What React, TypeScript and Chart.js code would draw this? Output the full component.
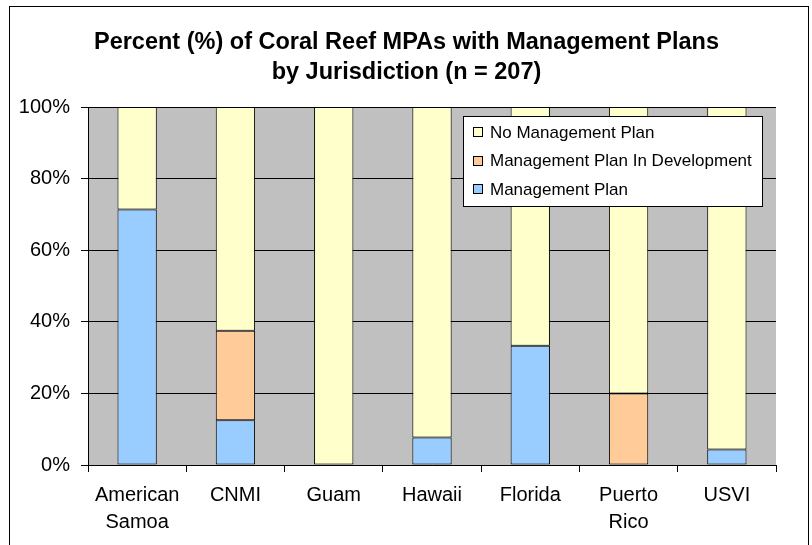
import React, { useEffect, useRef } from "react";
import { Chart, registerables } from "chart.js";

Chart.register(...registerables);

const categories: (string | string[])[] = [
  ["American", "Samoa"],
  "CNMI",
  "Guam",
  "Hawaii",
  "Florida",
  ["Puerto", "Rico"],
  "USVI",
];
const managementPlan = [71.4, 12.5, 0, 7.7, 33.3, 0, 4.3];
const planInDevelopment = [0, 25, 0, 0, 0, 20, 0];
const noManagementPlan = [28.6, 62.5, 100, 92.3, 66.7, 80, 95.7];
const yTicks = [0, 20, 40, 60, 80, 100];
const titleLines = [
  "Percent (%) of Coral Reef MPAs with Management Plans",
  "by Jurisdiction (n = 207)",
];

const FONT = "'Liberation Sans', Arial, sans-serif";

const framePlugin = {
  id: "frame",
  beforeDraw(chart: any) {
    const { ctx, chartArea } = chart;
    ctx.save();
    ctx.fillStyle = "#ffffff";
    ctx.fillRect(0, 0, chart.width, chart.height);
    ctx.strokeStyle = "#000000";
    ctx.lineWidth = 1;
    ctx.strokeRect(9.5, 6.5, 799, 600);
    ctx.fillStyle = "#C0C0C0";
    ctx.fillRect(chartArea.left, chartArea.top, chartArea.right - chartArea.left, chartArea.bottom - chartArea.top);
    // title
    ctx.fillStyle = "#000000";
    ctx.font = `bold 23.5px ${FONT}`;
    ctx.textAlign = "center";
    ctx.textBaseline = "alphabetic";
    ctx.fillText(titleLines[0], 406.5, 48.5);
    ctx.fillText(titleLines[1], 406.5, 79);
    ctx.restore();
  },
  afterDraw(chart: any) {
    const { ctx } = chart;
    ctx.save();
    ctx.fillStyle = "#ffffff";
    ctx.fillRect(463.5, 116.5, 299, 90);
    ctx.strokeStyle = "#000000";
    ctx.lineWidth = 1;
    ctx.strokeRect(463.5, 116.5, 299, 90);
    const ds = [...chart.data.datasets].reverse();
    const rows = [132, 160.5, 189];
    ctx.font = `17px ${FONT}`;
    ctx.textBaseline = "middle";
    ctx.textAlign = "left";
    ds.forEach((d: any, i: number) => {
      const y = rows[i];
      ctx.fillStyle = d.backgroundColor;
      ctx.fillRect(473.5, Math.round(y - 5) + 0.5, 9, 9);
      ctx.strokeStyle = "#000000";
      ctx.strokeRect(473.5, Math.round(y - 5) + 0.5, 9, 9);
      ctx.fillStyle = "#000000";
      ctx.fillText(d.label, 490, y + 1);
    });
    ctx.restore();
  },
};

export default function App() {
  const ref = useRef<HTMLCanvasElement | null>(null);
  useEffect(() => {
    if (!ref.current) return;
    const common = {
      borderColor: "#000000",
      borderWidth: 1,
      borderSkipped: false,
      barPercentage: 0.4,
      categoryPercentage: 1.0,
    };
    const chart = new Chart(ref.current, {
      type: "bar",
      data: {
        labels: categories,
        datasets: [
          { label: "Management Plan", data: managementPlan, backgroundColor: "#99CCFF", ...common },
          { label: "Management Plan In Development", data: planInDevelopment, backgroundColor: "#FFCC99", ...common },
          { label: "No Management Plan", data: noManagementPlan, backgroundColor: "#FFFFCC", ...common },
        ],
      },
      options: {
        responsive: false,
        animation: false,
        devicePixelRatio: 1,
        layout: { padding: { left: 0, right: 36, top: 107, bottom: 0 } },
        plugins: {
          legend: { display: false },
          title: { display: false },
          tooltip: { enabled: false },
        },
        scales: {
          x: {
            stacked: true,
            offset: true,
            grid: {
              offset: true,
              drawOnChartArea: false,
              drawTicks: true,
              tickLength: 7,
              color: "#000000",
            },
            border: { display: true, color: "#000000", width: 1 },
            ticks: {
              color: "#000000",
              font: { family: FONT, size: 20, lineHeight: 1.35 },
              padding: 10,
              maxRotation: 0,
              autoSkip: false,
            },
            afterFit(scale: any) {
              scale.height = 80;
            },
          },
          y: {
            stacked: true,
            min: 0,
            max: 100,
            afterBuildTicks(scale: any) {
              scale.ticks = yTicks.map((v) => ({ value: v }));
            },
            grid: {
              color: "#000000",
              drawTicks: true,
              tickLength: 7,
            },
            border: { display: true, color: "#000000", width: 1 },
            ticks: {
              color: "#000000",
              font: { family: FONT, size: 20 },
              padding: 11,
              callback: (v: any) => `${v}%`,
            },
            afterFit(scale: any) {
              scale.width = 88;
            },
          },
        },
      },
      plugins: [framePlugin],
    } as any);
    return () => chart.destroy();
  }, []);
  return (
    <div style={{ position: "absolute", left: 0, top: 0, width: 812, height: 545 }}>
      <canvas ref={ref} width={812} height={545} style={{ display: "block" }} />
    </div>
  );
}
